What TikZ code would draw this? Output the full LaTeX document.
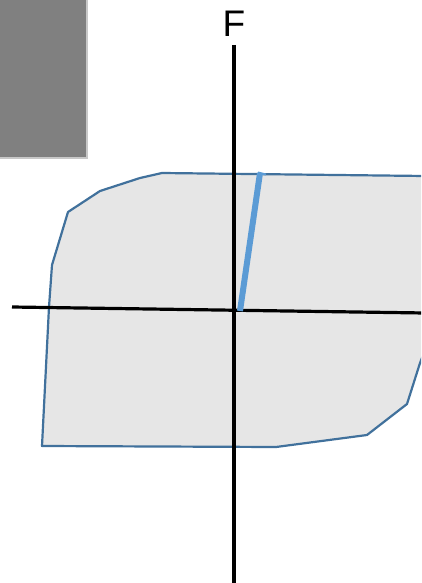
\documentclass[tikz,border=0pt]{standalone}
\usepackage{fontspec}
\setmainfont{Liberation Sans}
\begin{document}
\begin{tikzpicture}[x=1pt, y=-1pt]
        \useasboundingbox (0, 0) rectangle (421, 583);
        \clip (0, 0) rectangle (421, 583);
        % Block and envelope:
        \fill[fill={rgb,255:red,200;green,200;blue,200}] (0, 0) rectangle (88, 159);
        \fill[fill={rgb,255:red,128;green,128;blue,128}] (0, 0) rectangle (86, 157);
        \draw[draw={rgb,255:red,65;green,113;blue,156}, fill={rgb,255:red,230;green,230;blue,230}, line width=2.2pt, line join=round] (42, 446) -- (49, 307) -- (52, 265) -- (68, 212) -- (100, 191) -- (140, 178) -- (162, 173) -- (425, 176) -- (425, 350) -- (420, 363) -- (407, 404) -- (367, 435) -- (276, 447) -- cycle;
        % Axes:
        \draw[line width=3.2pt] (234, 45) -- (234, 585);
        \draw[line width=3.2pt] (12, 307) -- (425, 313);
        \draw[draw={rgb,255:red,91;green,155;blue,213}, line width=6pt] (240, 311) -- (260, 173);
        \draw[draw={rgb,255:red,91;green,155;blue,213}, line width=2pt] (258, 172.5) -- (266, 174.5);
        \node[inner sep=0, anchor=base, font=\fontsize{37}{40}\selectfont](Flabel) at (234, 37){F};
    \end{tikzpicture}
\end{document}
